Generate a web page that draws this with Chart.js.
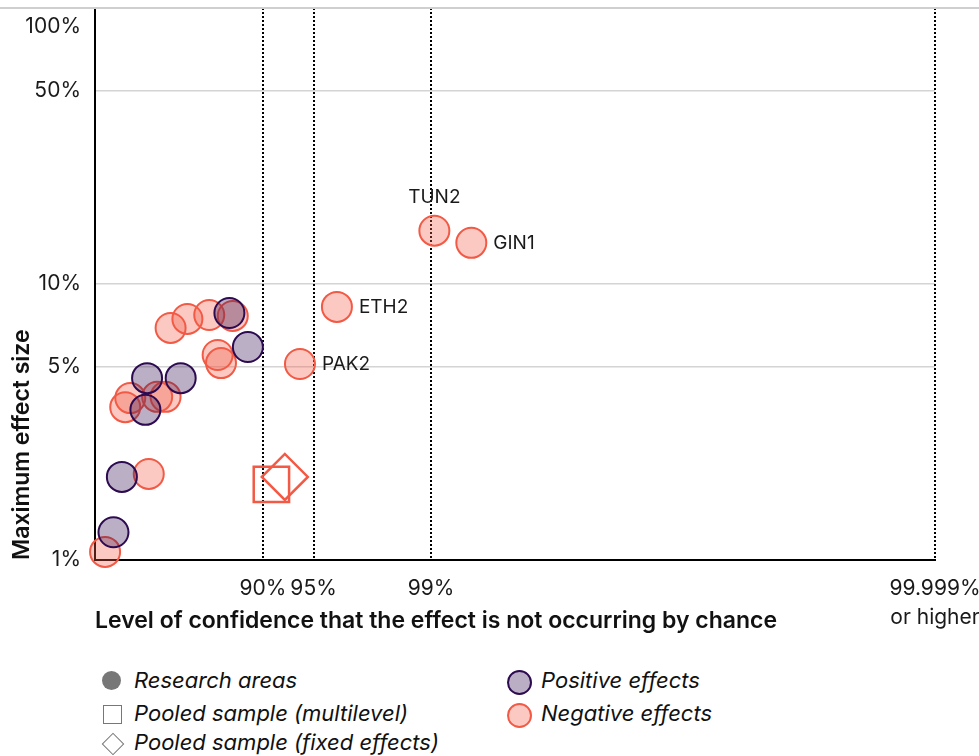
<!DOCTYPE html>
<html>
<head>
<meta charset="utf-8">
<script src="https://cdn.jsdelivr.net/npm/chart.js@4/dist/chart.umd.min.js"></script>
<style>
  body { margin: 0; background: #fff; font-family: Inter, sans-serif; }
  #wrap { position: relative; width: 979px; height: 756px; }
  #chart { position: absolute; left: 0; top: 0; }
  .legend { position: absolute; font-style: italic; font-size: 22px; color: #111; line-height: 24px; }
  .legend .mk { position: absolute; box-sizing: border-box; }
</style>
</head>
<body>
<div id="wrap">
  <canvas id="chart" width="979" height="650"></canvas>
  <div class="legend" style="left:134px;top:668px">Research areas</div>
  <div class="legend" style="left:134px;top:701px">Pooled sample (multilevel)</div>
  <div class="legend" style="left:134px;top:730px">Pooled sample (fixed effects)</div>
  <div class="legend" style="left:541px;top:668px">Positive effects</div>
  <div class="legend" style="left:541px;top:701px">Negative effects</div>
  <div class="mk" style="position:absolute;left:102px;top:671px;width:19px;height:19px;border-radius:50%;background:#777"></div>
  <div class="mk" style="position:absolute;left:103px;top:705px;width:17px;height:17px;border:1.5px solid #777"></div>
  <div class="mk" style="position:absolute;left:105px;top:736px;width:14px;height:14px;border:1.5px solid #777;transform:rotate(45deg)"></div>
  <div class="mk" style="position:absolute;left:507px;top:670px;width:21px;height:21px;border-radius:50%;background:#baaec5;border:2px solid #2d0b50"></div>
  <div class="mk" style="position:absolute;left:507px;top:703px;width:21px;height:21px;border-radius:50%;background:#fcc8c2;border:2px solid #f25a45"></div>
</div>
<script>
// x = -log10(p), y = max effect size in %
const positiveX = [0.80, 0.91, 0.31, 0.51, 0.30, 0.16, 0.11];
const positiveY = [7.85, 5.91, 4.56, 4.56, 3.50, 2.00, 1.26];

const negativeX = [0.45, 0.55, 0.68, 0.82, 0.73, 0.75, 1.22, 1.44, 0.21, 0.18, 0.37, 0.42, 0.32, 0.06, 2.02, 2.24];
const negativeY = [6.93, 7.47, 7.72, 7.66, 5.53, 5.17, 5.13, 8.26, 3.86, 3.58, 3.90, 3.90, 2.05, 1.07, 15.6, 14.1];
const negativeNames = ['', '', '', '', '', '', 'PAK2', 'ETH2', '', '', '', '', '', '', 'TUN2', 'GIN1'];

const multilevelPoint = { x: 1.05, y: 1.88 };
const fixedEffectsPoint = { x: 1.13, y: 2.00 };

const xTickValues = [1, 1.301, 2, 5];
const xTickLabels = ['90%', '95%', '99%', ['99.999%', 'or higher']];
const yTickValues = [1, 5, 10, 50, 100];
const yTickLabels = ['1%', '5%', '10%', '50%', '100%'];

const PURPLE = '#2d0b50', PURPLE_FILL = 'rgba(45,11,80,0.33)';
const RED = '#f25a45', RED_FILL = 'rgba(242,90,69,0.33)';

const toPoints = (xs, ys) => xs.map((x, i) => ({ x, y: ys[i] }));

// y tick labels drawn by hand so the top one can sit inside the canvas
const extras = {
  id: 'extras',
  afterDraw(chart) {
    const { ctx, chartArea, scales } = chart;
    ctx.save();
    ctx.strokeStyle = '#cfcfcf';
    ctx.lineWidth = 2;
    ctx.beginPath();
    ctx.moveTo(0, chartArea.top);
    ctx.lineTo(chart.width, chartArea.top);
    ctx.stroke();

    ctx.fillStyle = '#1a1a1a';
    ctx.font = '21px Inter, sans-serif';
    ctx.textAlign = 'right';
    ctx.textBaseline = 'middle';
    yTickValues.forEach((v, i) => {
      const y = Math.max(scales.y.getPixelForValue(v), chartArea.top + 19);
      ctx.fillText(yTickLabels[i], 81, y);
    });

    ctx.font = '19px Inter, sans-serif';
    ctx.textAlign = 'left';
    const meta = chart.getDatasetMeta(1);
    negativeNames.forEach((name, i) => {
      if (!name) return;
      const el = meta.data[i];
      if (name === 'TUN2') {
        ctx.textAlign = 'center';
        ctx.fillText(name, el.x, el.y - 33);
        ctx.textAlign = 'left';
      } else {
        ctx.fillText(name, el.x + 22, el.y);
      }
    });
    ctx.restore();
  }
};

new Chart(document.getElementById('chart'), {
  type: 'scatter',
  data: {
    datasets: [
      {
        label: 'Positive effects',
        data: toPoints(positiveX, positiveY),
        pointRadius: 15, pointHoverRadius: 15, pointBorderWidth: 2,
        pointBackgroundColor: PURPLE_FILL, pointBorderColor: PURPLE,
        clip: false
      },
      {
        label: 'Negative effects',
        data: toPoints(negativeX, negativeY),
        pointRadius: 15, pointHoverRadius: 15, pointBorderWidth: 2,
        pointBackgroundColor: RED_FILL, pointBorderColor: RED,
        clip: false
      },
      {
        label: 'Pooled sample (multilevel)',
        data: [multilevelPoint],
        pointStyle: 'rect', pointRadius: 25, pointBorderWidth: 2.5,
        pointBackgroundColor: 'rgba(0,0,0,0)', pointBorderColor: RED,
        clip: false
      },
      {
        label: 'Pooled sample (fixed effects)',
        data: [fixedEffectsPoint],
        pointStyle: 'rectRot', pointRadius: 23, pointBorderWidth: 2.5,
        pointBackgroundColor: 'rgba(0,0,0,0)', pointBorderColor: RED,
        clip: false
      }
    ]
  },
  options: {
    responsive: false,
    animation: false,
    events: [],
    layout: { autoPadding: false, padding: { top: 8, left: 0, right: 0, bottom: 0 } },
    plugins: { legend: { display: false }, tooltip: { enabled: false } },
    scales: {
      x: {
        type: 'linear', min: 0, max: 5,
        afterBuildTicks: (s) => { s.ticks = xTickValues.map((v) => ({ value: v })); },
        afterFit: (s) => { s.height = 90; s.paddingLeft = 0; s.paddingRight = 44; },
        grid: { color: '#000', lineWidth: 2, drawTicks: false, z: 0 },
        border: { display: true, color: '#000', width: 2, dash: [2, 2] },
        ticks: {
          padding: 15, color: '#1a1a1a', maxRotation: 0, autoSkip: false,
          font: { family: 'Inter', size: 21, lineHeight: 1.35 },
          callback: (v) => xTickLabels[xTickValues.indexOf(v)]
        },
        title: {
          display: true, align: 'start', color: '#111',
          text: 'Level of confidence that the effect is not occurring by chance',
          font: { family: 'Inter', size: 23, weight: '600' },
          padding: { top: 0, bottom: 15 }
        }
      },
      y: {
        type: 'logarithmic', min: 1, max: 100,
        afterBuildTicks: (s) => { s.ticks = yTickValues.map((v) => ({ value: v })); },
        afterFit: (s) => { s.width = 95; },
        grid: { color: '#d4d4d4', lineWidth: 1.5, drawTicks: false, z: -1 },
        border: { display: true, color: '#000', width: 2 },
        ticks: { display: false },
        title: {
          display: true, align: 'start', color: '#111',
          text: 'Maximum effect size',
          font: { family: 'Inter', size: 23, weight: '600' },
          padding: { top: 8, bottom: 0 }
        }
      }
    }
  },
  plugins: [extras]
});
</script>
</body>
</html>
